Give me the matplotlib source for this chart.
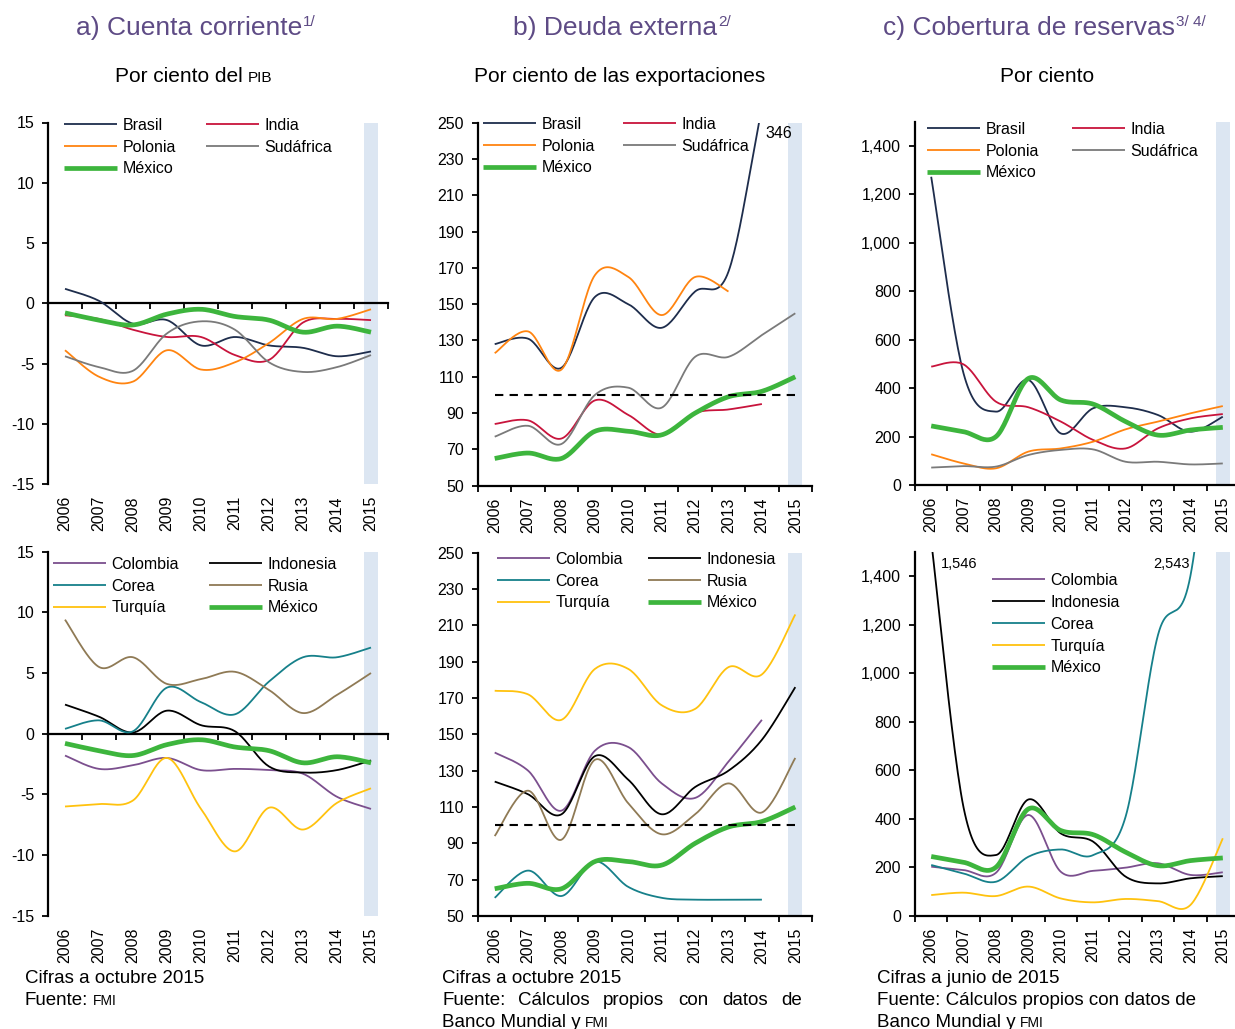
import numpy as np
import matplotlib
matplotlib.use('Agg')
import matplotlib.pyplot as plt
from matplotlib.transforms import blended_transform_factory, ScaledTranslation
from matplotlib.ticker import FuncFormatter

plt.rcParams['font.family'] = ['Liberation Sans', 'DejaVu Sans']
plt.rcParams['axes.unicode_minus'] = False

W, H = 1235, 1029
years = ['2006', '2007', '2008', '2009', '2010', '2011', '2012', '2013', '2014', '2015']

# a) Cuenta corriente (% PIB) - top
ca_brasil = [1.2, 0.2, -1.7, -1.4, -3.5, -2.8, -3.5, -3.7, -4.4, -4.0]
ca_india = [-1.0, -1.3, -2.2, -2.8, -2.8, -4.3, -4.7, -1.6, -1.3, -1.4]
ca_polonia = [-3.9, -6.1, -6.5, -3.9, -5.5, -4.9, -3.3, -1.3, -1.3, -0.5]
ca_sudafrica = [-4.4, -5.3, -5.6, -2.5, -1.5, -2.2, -4.9, -5.7, -5.3, -4.3]
ca_mexico = [-0.8, -1.4, -1.8, -0.9, -0.5, -1.1, -1.4, -2.4, -1.9, -2.4]
# a) bottom
ca_colombia = [-1.8, -2.9, -2.6, -2.0, -3.0, -2.9, -3.0, -3.3, -5.2, -6.2]
ca_indonesia = [2.4, 1.4, 0.1, 1.9, 0.7, 0.2, -2.7, -3.2, -3.0, -2.2]
ca_corea = [0.4, 1.1, 0.2, 3.8, 2.6, 1.6, 4.3, 6.3, 6.3, 7.1]
ca_rusia = [9.4, 5.5, 6.3, 4.1, 4.5, 5.1, 3.6, 1.7, 3.2, 5.0]
ca_turquia = [-6.0, -5.8, -5.5, -2.0, -6.2, -9.7, -6.1, -7.9, -5.7, -4.5]

# b) Deuda externa (% exportaciones) - top
de_brasil = [128, 131, 115, 154, 150, 137, 157, 168, 258, 346]
de_polonia = [123, 135, 114, 166, 165, 144, 165, 157]
de_india = [84, 86, 76, 97, 89, 78, 90, 92, 95]
de_sudafrica = [77, 83, 73, 100, 104, 93, 121, 121, 133, 145]
de_mexico = [65, 68, 65, 80, 80, 78, 90, 99, 102, 110]
# b) bottom
de_colombia = [140, 130, 108, 141, 143, 123, 115, 135, 158]
de_indonesia = [124, 117, 106, 138, 125, 106, 121, 130, 147, 176]
de_corea = [60, 75, 61, 80, 66, 60, 59, 59, 59]
de_rusia = [94, 119, 92, 136, 112, 95, 106, 123, 107, 137]
de_turquia = [174, 172, 158, 186, 186, 166, 164, 187, 183, 216]
de_umbral = 100

# c) Cobertura de reservas (%) - top
cr_brasil = [1273, 460, 303, 434, 213, 317, 321, 289, 220, 282]
cr_india = [489, 498, 344, 321, 262, 186, 151, 234, 275, 293]
cr_polonia = [127, 89, 69, 138, 151, 179, 230, 262, 296, 326]
cr_sudafrica = [72, 78, 76, 124, 145, 147, 96, 96, 85, 89]
cr_mexico = [244, 220, 200, 440, 351, 334, 262, 206, 227, 238]
# c) bottom
cr_colombia = [202, 188, 177, 415, 181, 185, 198, 216, 168, 179]
cr_indonesia = [1546, 445, 250, 479, 339, 305, 161, 133, 154, 163]
cr_corea = [209, 174, 140, 243, 273, 250, 408, 1157, 1400, 2543]
cr_turquia = [85, 95, 81, 120, 71, 55, 69, 60, 44, 319]

colors = {
    'Brasil': '#1E2D4C', 'India': '#C8143C', 'Polonia': '#FF8410',
    'Sudáfrica': '#7A7A7A', 'México': '#3DB53D', 'Colombia': '#7B4F8E',
    'Indonesia': '#000000', 'Corea': '#16808A', 'Rusia': '#8F7A55',
    'Turquía': '#FFC20E',
}
band_color = '#DCE6F2'
title_color = '#5E4B85'


def smooth(vals, n=25):
    y = np.asarray(vals, float)
    x = np.arange(len(y), dtype=float)
    P = np.column_stack([x, y])
    m = len(P)
    out = []
    for i in range(m - 1):
        p0 = P[max(i - 1, 0)]
        p1 = P[i]
        p2 = P[i + 1]
        p3 = P[min(i + 2, m - 1)]
        c1 = p1 + (p2 - p0) / 6.0
        c2 = p2 - (p3 - p1) / 6.0
        t = np.linspace(0, 1, n)[:, None]
        seg = ((1 - t) ** 3) * p1 + 3 * ((1 - t) ** 2) * t * c1 + 3 * (1 - t) * t ** 2 * c2 + t ** 3 * p2
        out.append(seg if i == 0 else seg[1:])
    out = np.vstack(out)
    return out[:, 0], out[:, 1]


fig = plt.figure(figsize=(W / 100, H / 100), dpi=100)


def make_ax(l, t, r, b):
    return fig.add_axes([l / W, 1 - b / H, (r - l) / W, (b - t) / H])


def setup(ax, ylim, yticks, fmt=None, zero_axis=False):
    ax.set_xlim(-0.5, 9.5)
    ax.set_ylim(*ylim)
    ax.axvspan(9 - 0.21, 9 + 0.21, color=band_color, lw=0, zorder=0)
    for s in ['top', 'right']:
        ax.spines[s].set_visible(False)
    ax.spines['left'].set_linewidth(1.6)
    ax.spines['bottom'].set_linewidth(1.6)
    if zero_axis:
        ax.spines['bottom'].set_position(('data', 0))
    ax.set_xticks(np.arange(-0.5, 10, 1))
    ax.tick_params(axis='x', direction='out', length=4, width=1.3, labelbottom=False)
    ax.set_yticks(yticks)
    if fmt:
        ax.yaxis.set_major_formatter(FuncFormatter(fmt))
    ax.tick_params(axis='y', direction='out', length=4, width=1.3, labelsize=11.5, pad=6)
    tr = blended_transform_factory(ax.transData, ax.transAxes) + \
        ScaledTranslation(0, -12 / 100, fig.dpi_scale_trans)
    for i, yr in enumerate(years):
        ax.text(i, 0, yr, transform=tr, rotation=90, ha='center', va='top', fontsize=11.5)


def draw(ax, series, dashed=None):
    handles = {}
    for name, vals in series:
        xs, ys = smooth(vals)
        lw = 3.4 if name == 'México' else 1.3
        z = 4 if name == 'México' else 3
        ln, = ax.plot(xs, ys, color=colors[name], lw=lw, zorder=z, solid_capstyle='butt')
        handles[name] = ln
    if dashed is not None:
        ax.plot([0, 9], [dashed, dashed], color='black', lw=1.5, ls=(0, (4, 3)), zorder=5)
    return handles


def legend(ax, handles, order, x, y, ncol=2, colsp=1.9, lsp=0.41):
    hs = [handles[k] for k in order]
    ax.legend(hs, order, loc='upper left', bbox_to_anchor=(x / W, 1 - y / H),
              bbox_transform=fig.transFigure, ncol=ncol, frameon=False,
              fontsize=11.5, handlelength=3.3, handletextpad=0.35,
              columnspacing=colsp, labelspacing=lsp, borderpad=0, borderaxespad=0)


def thousands(v, p):
    return f'{int(v):,}'


# ---------- Panel a top ----------
axa = make_ax(48, 122.5, 388, 484)
setup(axa, (-15, 15), [-15, -10, -5, 0, 5, 10, 15], zero_axis=True)
h = draw(axa, [('Brasil', ca_brasil), ('India', ca_india), ('Polonia', ca_polonia),
               ('Sudáfrica', ca_sudafrica), ('México', ca_mexico)])
legend(axa, h, ['Brasil', 'Polonia', 'México', 'India', 'Sudáfrica'], 64, 118, colsp=1.9)

# ---------- Panel b top ----------
axb = make_ax(478, 122.7, 812, 485.7)
setup(axb, (50, 250), list(range(50, 251, 20)))
h = draw(axb, [('Brasil', de_brasil), ('India', de_india), ('Polonia', de_polonia),
               ('Sudáfrica', de_sudafrica), ('México', de_mexico)], dashed=de_umbral)
legend(axb, h, ['Brasil', 'Polonia', 'México', 'India', 'Sudáfrica'], 483, 117, colsp=1.8)
axb.text(8.5, 243.8, '346', ha='center', va='center', fontsize=11.5)

# ---------- Panel c top ----------
axc = make_ax(915, 121.8, 1239, 485)
setup(axc, (0, 1500), list(range(0, 1401, 200)), fmt=thousands)
h = draw(axc, [('Brasil', cr_brasil), ('India', cr_india), ('Polonia', cr_polonia),
               ('Sudáfrica', cr_sudafrica), ('México', cr_mexico)])
legend(axc, h, ['Brasil', 'Polonia', 'México', 'India', 'Sudáfrica'], 927, 122, colsp=2.1)

# ---------- Panel a bottom ----------
axd = make_ax(48, 551.7, 388, 915.7)
setup(axd, (-15, 15), [-15, -10, -5, 0, 5, 10, 15], zero_axis=True)
h = draw(axd, [('Colombia', ca_colombia), ('Indonesia', ca_indonesia), ('Corea', ca_corea),
               ('Rusia', ca_rusia), ('Turquía', ca_turquia), ('México', ca_mexico)])
legend(axd, h, ['Colombia', 'Corea', 'Turquía', 'Indonesia', 'Rusia', 'México'], 53, 557, colsp=1.9)

# ---------- Panel b bottom ----------
axe = make_ax(478, 552.7, 812, 916)
setup(axe, (50, 250), list(range(50, 251, 20)))
h = draw(axe, [('Colombia', de_colombia), ('Indonesia', de_indonesia), ('Corea', de_corea),
               ('Rusia', de_rusia), ('Turquía', de_turquia), ('México', de_mexico)], dashed=de_umbral)
legend(axe, h, ['Colombia', 'Corea', 'Turquía', 'Indonesia', 'Rusia', 'México'], 497, 552, colsp=1.6)

# ---------- Panel c bottom ----------
axf = make_ax(915, 551.7, 1239, 915.7)
setup(axf, (0, 1500), list(range(0, 1401, 200)), fmt=thousands)
h = draw(axf, [('Colombia', cr_colombia), ('Indonesia', cr_indonesia), ('Corea', cr_corea),
               ('Turquía', cr_turquia), ('México', cr_mexico)])
legend(axf, h, ['Colombia', 'Indonesia', 'Corea', 'Turquía', 'México'], 992, 573, ncol=1, lsp=0.43)
axf.text(0.86, 1449, '1,546', ha='center', va='center', fontsize=10.5)
axf.text(7.43, 1449, '2,543', ha='center', va='center', fontsize=10.5)

# ---------- Titles and notes ----------
def ftext(x, y, s, **kw):
    return fig.text(x / W, 1 - y / H, s, va='baseline', **kw)


titles = [(76, 'a) Cuenta corriente', '1/'), (513, 'b) Deuda externa', '2/'),
          (883, 'c) Cobertura de reservas', '3/ 4/')]
title_objs = [ftext(x, 35, s, fontsize=19, color=title_color) for x, s, _ in titles]

sub_main = [(115, 'Por ciento del', 'PIB'), (474, 'Por ciento de las exportaciones', None),
            (1000, 'Por ciento', None)]
sub_objs = [ftext(x, 82, s, fontsize=15) for x, s, _ in sub_main]

ftext(25, 983, 'Cifras a octubre 2015', fontsize=13.5)
fa = ftext(25, 1005, 'Fuente:', fontsize=13.5)
ftext(442, 983, 'Cifras a octubre 2015', fontsize=13.5)
for x, w in [(443, 'Fuente:'), (518, 'Cálculos'), (603, 'propios'), (678, 'con'), (722, 'datos')]:
    ftext(x, 1005, w, fontsize=13.5)
ftext(802, 1005, 'de', fontsize=13.5, ha='right')
fb = ftext(442, 1027, 'Banco Mundial y', fontsize=13.5)
ftext(877, 983, 'Cifras a junio de 2015', fontsize=13.5)
ftext(877, 1005, 'Fuente: Cálculos propios con datos de', fontsize=13.5)
fc = ftext(877, 1027, 'Banco Mundial y', fontsize=13.5)

fig.canvas.draw()
r = fig.canvas.get_renderer()
for t, (_, _, sup) in zip(title_objs, titles):
    bb = t.get_window_extent(r)
    fig.text(bb.x1 / W + 1 / W, 1 - 26 / H, sup, fontsize=11, color=title_color, va='baseline')
bb = sub_objs[0].get_window_extent(r)
fig.text((bb.x1 + 5) / W, 1 - 82 / H, 'PIB', fontsize=11, va='baseline')
for t, y in [(fa, 1005), (fb, 1027), (fc, 1027)]:
    bb = t.get_window_extent(r)
    fig.text((bb.x1 + 4) / W, 1 - y / H, 'FMI', fontsize=10, va='baseline')

fig.savefig('out.png', dpi=100)
